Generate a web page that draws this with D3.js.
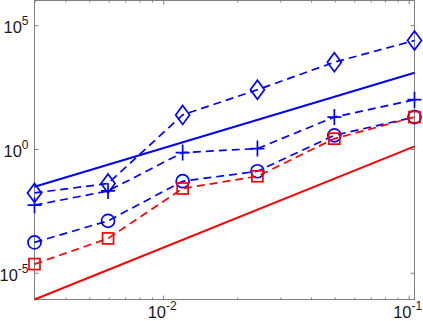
<!DOCTYPE html>
<html><head><meta charset="utf-8">
<script src="https://cdn.jsdelivr.net/npm/d3@7"></script>
<style>body{margin:0;background:#fff} svg{display:block}</style>
</head><body><svg id="c" width="423" height="321"></svg>
<script>
// ---- data ----
const hValues = [0.00299, 0.00596, 0.0120, 0.0242, 0.0498, 0.1056];
const diamondSeries = [0.0168, 0.0403, 23.9, 248, 3220, 24150];
const plusSeries = [0.00537, 0.0202, 0.716, 1.04, 19.5, 98.2];
const circleSeries = [1.68e-4, 1.25e-3, 0.0499, 0.126, 3.56, 19.5];
const squareSeries = [2.24e-5, 2.44e-4, 0.0253, 0.0793, 2.62, 19.5];
const refX = [0.00299, 0.1056];
const blueRef = [0.0299, 1200];
const redRef = [8.3e-7, 1.28];
const xTickExps = [-2, -1];
const yTickExps = [-5, 0, 5];
const xDomain = [0.00299, 0.1056];
const yDomain = [8.3e-7, 1e6];

// ---- layout ----
const L = 34.5, R = 414.5, T = 0.5, B = 299.5;
const svg = d3.select('#c');
const x = d3.scaleLog().domain(xDomain).range([L, R]);
const y = d3.scaleLog().domain(yDomain).range([B, T]);
const axisColor = '#808080';
const font = '"Liberation Sans", Arial, Helvetica, sans-serif';

// minor x ticks
const xMinor = [];
for (let e = -3; e <= -1; e++) for (let k = 2; k <= 9; k++) {
  const v = k * Math.pow(10, e);
  if (v > xDomain[0] && v < xDomain[1]) xMinor.push(v);
}
const xMajor = xTickExps.map(e => Math.pow(10, e));
const yMajor = yTickExps.map(e => Math.pow(10, e));

function styleAxis(g) {
  g.select('.domain').remove();
  g.selectAll('.tick line').attr('stroke', axisColor).attr('stroke-width', 1);
  g.selectAll('.tick text').remove();
}
// bottom & top
svg.append('g').attr('transform', `translate(0,${B})`)
  .call(d3.axisBottom(x).tickValues(xMinor).tickSize(-2).tickFormat('')).call(styleAxis);
svg.append('g').attr('transform', `translate(0,${B})`)
  .call(d3.axisBottom(x).tickValues(xMajor).tickSize(-4).tickFormat('')).call(styleAxis);
svg.append('g').attr('transform', `translate(0,${T})`)
  .call(d3.axisTop(x).tickValues(xMinor).tickSize(-2).tickFormat('')).call(styleAxis);
svg.append('g').attr('transform', `translate(0,${T})`)
  .call(d3.axisTop(x).tickValues(xMajor).tickSize(-4).tickFormat('')).call(styleAxis);
// left & right
svg.append('g').attr('transform', `translate(${L},0)`)
  .call(d3.axisLeft(y).tickValues(yMajor).tickSize(-4).tickFormat('')).call(styleAxis);
svg.append('g').attr('transform', `translate(${R},0)`)
  .call(d3.axisRight(y).tickValues(yMajor).tickSize(-4).tickFormat('')).call(styleAxis);

// box
svg.append('rect').attr('x', L).attr('y', T).attr('width', R - L).attr('height', B - T)
  .attr('fill', 'none').attr('stroke', axisColor).attr('stroke-width', 1);

// tick labels
function powLabel(sel, e) {
  sel.append('tspan').text('10');
  sel.append('tspan').attr('dy', -8).attr('font-size', 12).text(String(e));
}
xTickExps.forEach(e => {
  const t = svg.append('text').attr('x', x(Math.pow(10, e)) - 1).attr('y', 318)
    .attr('text-anchor', 'middle').attr('font-family', font).attr('font-size', 16.5).attr('fill', '#1a1a1a');
  powLabel(t, e);
});
yTickExps.forEach(e => {
  const t = svg.append('text').attr('x', 28.5).attr('y', y(Math.pow(10, e)) + 8)
    .attr('text-anchor', 'end').attr('font-family', font).attr('font-size', 16.5).attr('fill', '#1a1a1a');
  powLabel(t, e);
});

// ---- lines ----
const line = d3.line().x(d => x(d[0])).y(d => y(d[1]));
function series(vals, color, dashed) {
  svg.append('path').datum(hValues.map((h, i) => [h, vals[i]]))
    .attr('d', line).attr('fill', 'none').attr('stroke', color).attr('stroke-width', 1.7)
    .attr('stroke-dasharray', dashed ? '8,5' : null);
}
const blue = '#0000ff', red = '#ff0000';

series(diamondSeries, blue, true);
hValues.forEach((h, i) => {
  const cx = x(h), cy = y(diamondSeries[i]);
  svg.append('path').attr('d', `M${cx},${cy - 9.5}L${cx + 7},${cy}L${cx},${cy + 9.5}L${cx - 7},${cy}Z`)
    .attr('fill', 'none').attr('stroke', blue).attr('stroke-width', 1.7);
});
series(plusSeries, blue, true);
hValues.forEach((h, i) => {
  const cx = x(h), cy = y(plusSeries[i]);
  svg.append('path').attr('d', `M${cx - 7},${cy}H${cx + 7}M${cx},${cy - 8}V${cy + 8}`)
    .attr('fill', 'none').attr('stroke', blue).attr('stroke-width', 1.7);
});
series(circleSeries, blue, true);
hValues.forEach((h, i) => {
  svg.append('circle').attr('cx', x(h)).attr('cy', y(circleSeries[i])).attr('r', 6.5)
    .attr('fill', 'none').attr('stroke', blue).attr('stroke-width', 1.7);
});
svg.append('path').datum(refX.map((h, i) => [h, blueRef[i]])).attr('d', line)
  .attr('fill', 'none').attr('stroke', blue).attr('stroke-width', 2);

series(squareSeries, red, true);
hValues.forEach((h, i) => {
  svg.append('rect').attr('x', x(h) - 5.5).attr('y', y(squareSeries[i]) - 5.5)
    .attr('width', 11).attr('height', 11)
    .attr('fill', 'none').attr('stroke', red).attr('stroke-width', 1.7);
});
svg.append('path').datum(refX.map((h, i) => [h, redRef[i]])).attr('d', line)
  .attr('fill', 'none').attr('stroke', red).attr('stroke-width', 2);
</script>
</body></html>
